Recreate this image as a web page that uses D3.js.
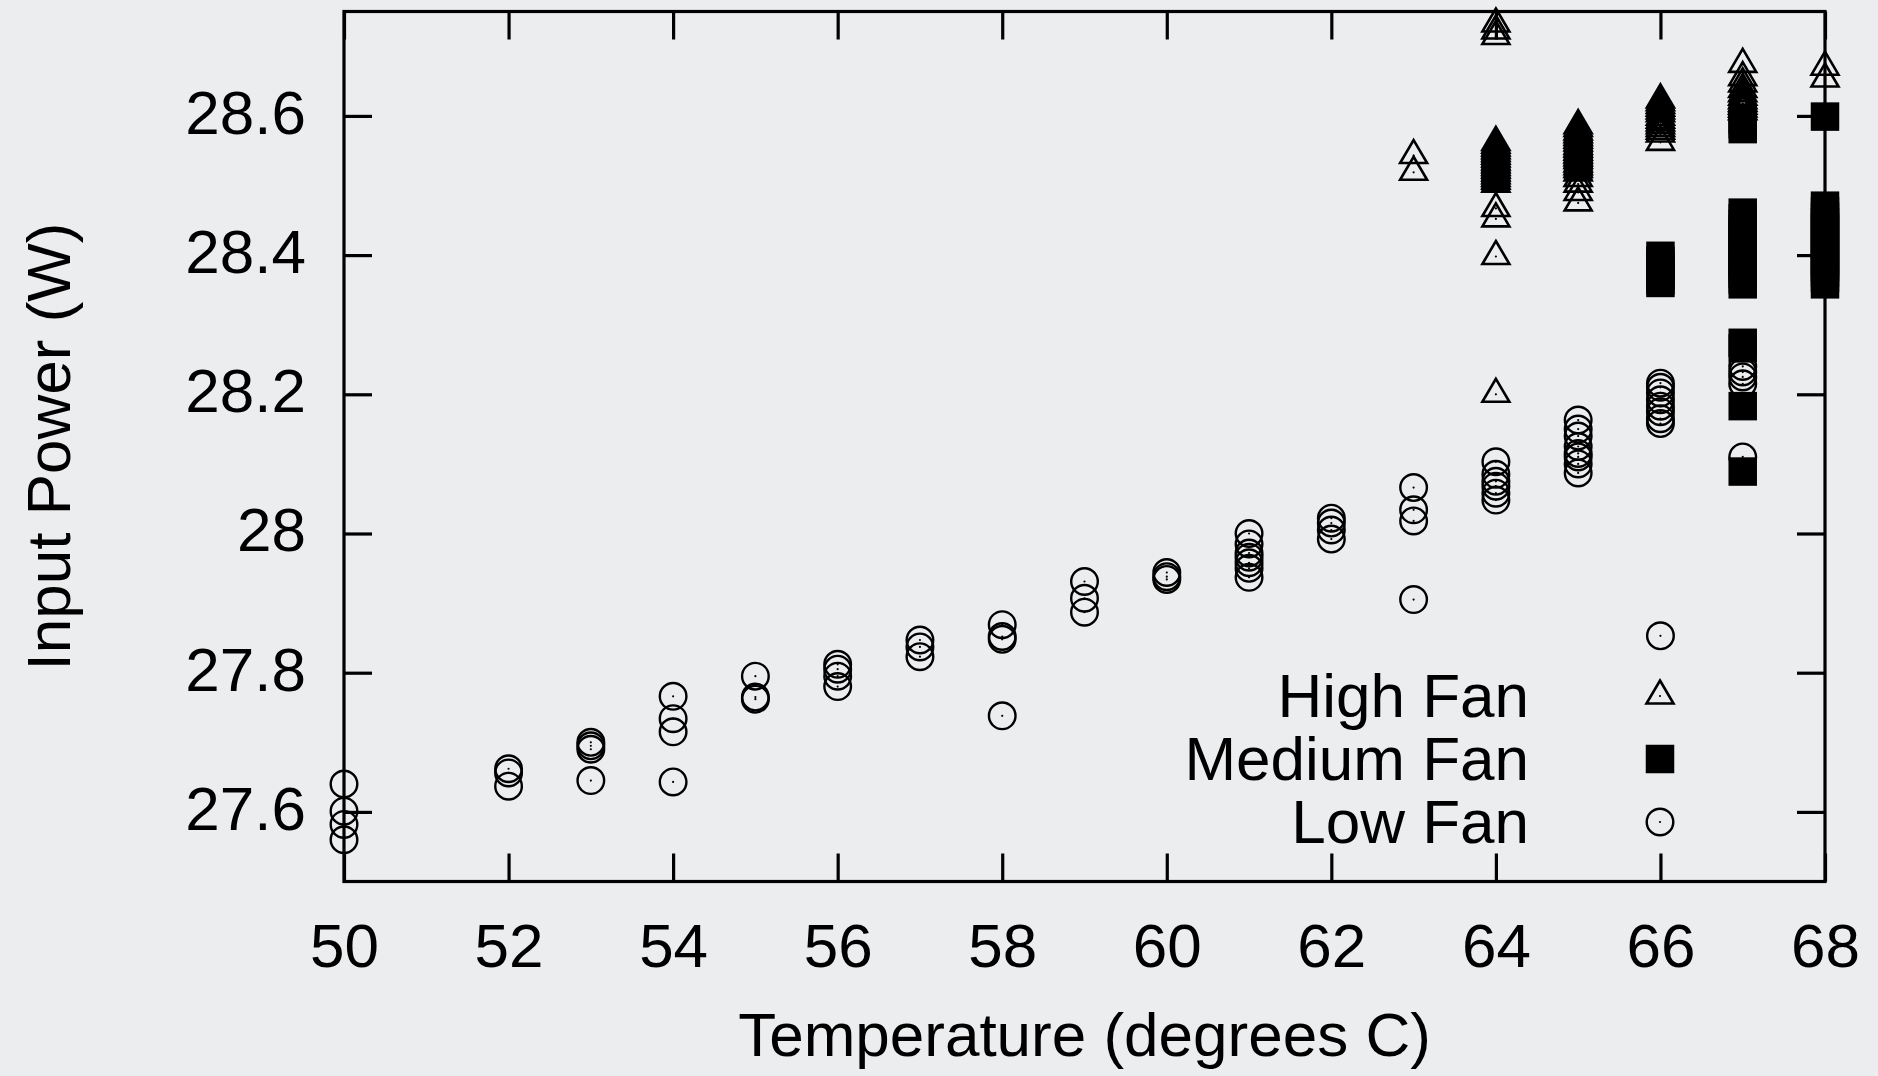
<!DOCTYPE html>
<html>
<head>
<meta charset="utf-8">
<script src="https://cdn.jsdelivr.net/npm/d3@7"></script>
<style>
  html, body { margin: 0; padding: 0; background: #ecedef; }
  svg { display: block; font-family: "Liberation Sans", Arial, Helvetica, sans-serif; }
</style>
</head>
<body>
<div id="chart"></div>
<script>
/* Input power vs temperature, three fan speeds */

// [temperature, watts]
const highFan = [
  [63, 28.543], [63, 28.519],
  [64, 28.732], [64, 28.722], [64, 28.714],
  [64, 28.562], [64, 28.558], [64, 28.554], [64, 28.550], [64, 28.546], [64, 28.542],
  [64, 28.538], [64, 28.534], [64, 28.530], [64, 28.526], [64, 28.522], [64, 28.518],
  [64, 28.514], [64, 28.510], [64, 28.506], [64, 28.502],
  [64, 28.467], [64, 28.452], [64, 28.398], [64, 28.200],
  [65, 28.586], [65, 28.582], [65, 28.577], [65, 28.573], [65, 28.569], [65, 28.565],
  [65, 28.561], [65, 28.556], [65, 28.552], [65, 28.548], [65, 28.544], [65, 28.540],
  [65, 28.536], [65, 28.531], [65, 28.527], [65, 28.523], [65, 28.518],
  [65, 28.510], [65, 28.502], [65, 28.490], [65, 28.475],
  [66, 28.623], [66, 28.619], [66, 28.615], [66, 28.611], [66, 28.607], [66, 28.603],
  [66, 28.598], [66, 28.594], [66, 28.590], [66, 28.586], [66, 28.582], [66, 28.578],
  [66, 28.574], [66, 28.562],
  [67, 28.674], [67, 28.655], [67, 28.646], [67, 28.638], [67, 28.632], [67, 28.627],
  [67, 28.622], [67, 28.618], [67, 28.614], [67, 28.610], [67, 28.606],
  [68, 28.670], [68, 28.653]
];

const mediumFan = [
  [64, 28.530], [64, 28.524], [64, 28.517], [64, 28.510],
  [65, 28.552], [65, 28.545], [65, 28.538], [65, 28.531], [65, 28.527],
  [66, 28.399], [66, 28.392], [66, 28.385], [66, 28.378], [66, 28.371], [66, 28.364], [66, 28.360],
  [67, 28.595], [67, 28.588], [67, 28.581],
  [67, 28.461], [67, 28.453], [67, 28.445], [67, 28.437], [67, 28.429], [67, 28.421],
  [67, 28.413], [67, 28.405], [67, 28.397], [67, 28.389], [67, 28.381], [67, 28.373],
  [67, 28.365], [67, 28.358],
  [67, 28.274], [67, 28.266], [67, 28.183], [67, 28.089],
  [68, 28.599],
  [68, 28.471], [68, 28.463], [68, 28.455], [68, 28.447], [68, 28.439], [68, 28.431],
  [68, 28.423], [68, 28.415], [68, 28.407], [68, 28.399], [68, 28.391], [68, 28.383],
  [68, 28.375], [68, 28.367], [68, 28.358]
];

const lowFan = [
  [50, 27.640], [50, 27.601], [50, 27.582], [50, 27.560],
  [52, 27.662], [52, 27.656], [52, 27.637],
  [53, 27.700], [53, 27.695], [53, 27.690], [53, 27.645],
  [54, 27.766], [54, 27.734], [54, 27.715], [54, 27.643],
  [55, 27.795], [55, 27.765], [55, 27.762],
  [56, 27.812], [56, 27.805], [56, 27.795], [56, 27.780],
  [57, 27.847], [57, 27.837], [57, 27.823],
  [58, 27.869], [58, 27.852], [58, 27.848], [58, 27.738],
  [59, 27.931], [59, 27.907], [59, 27.887],
  [60, 27.944], [60, 27.938], [60, 27.934],
  [61, 28.000], [61, 27.985], [61, 27.972], [61, 27.966], [61, 27.958], [61, 27.950], [61, 27.937],
  [62, 28.022], [62, 28.015], [62, 28.005], [62, 27.992],
  [63, 28.066], [63, 28.034], [63, 28.018], [63, 27.905],
  [64, 28.103], [64, 28.085], [64, 28.075], [64, 28.068], [64, 28.058], [64, 28.048],
  [65, 28.163], [65, 28.150], [65, 28.140], [65, 28.125], [65, 28.115], [65, 28.110],
  [65, 28.100], [65, 28.087],
  [66, 28.216], [66, 28.210], [66, 28.202], [66, 28.192], [66, 28.183], [66, 28.175],
  [66, 28.165], [66, 28.158], [66, 27.853],
  [67, 28.240], [67, 28.232], [67, 28.225], [67, 28.215], [67, 28.110]
];

const xDomain = [50, 68];
const yDomain = [27.5, 28.75];
const xTicks = [50, 52, 54, 56, 58, 60, 62, 64, 66, 68];
const yTicks = [27.6, 27.8, 28.0, 28.2, 28.4, 28.6];
const legendLabels = ['High Fan', 'Medium Fan', 'Low Fan'];

const width = 1878;
const height = 1076;
const margin = { top: 11.5, right: 53, bottom: 194.5, left: 344 };
const innerWidth = width - margin.left - margin.right;
const innerHeight = height - margin.top - margin.bottom;
const fontSize = 62;

const svg = d3.select('#chart')
  .append('svg')
  .attr('width', width)
  .attr('height', height);

svg.append('rect')
  .attr('width', width)
  .attr('height', height)
  .attr('fill', '#ecedef');

const g = svg.append('g')
  .attr('transform', `translate(${margin.left},${margin.top})`);

// Scales
const x = d3.scaleLinear().domain(xDomain).range([0, innerWidth]);
const y = d3.scaleLinear().domain(yDomain).range([innerHeight, 0]);

// Marker shapes (gnuplot style)
const triPath = 'M0,-15.5 L13.5,7.5 L-13.5,7.5 Z';
const sq = 28.5;

function drawTriangle(sel) {
  sel.append('path')
    .attr('d', triPath)
    .attr('fill', 'none')
    .attr('stroke', '#000')
    .attr('stroke-width', 2.6)
    .attr('stroke-linejoin', 'miter');
  sel.append('circle').attr('r', 1.1).attr('fill', '#000');
}

function drawCircle(sel) {
  sel.append('circle')
    .attr('r', 13.3)
    .attr('fill', 'none')
    .attr('stroke', '#000')
    .attr('stroke-width', 2.4);
  sel.append('circle').attr('r', 1.1).attr('fill', '#000');
}

function drawSquare(sel) {
  sel.append('rect')
    .attr('x', -sq / 2)
    .attr('y', -sq / 2)
    .attr('width', sq)
    .attr('height', sq)
    .attr('fill', '#000');
}

// Frame
g.append('rect')
  .attr('width', innerWidth)
  .attr('height', innerHeight)
  .attr('fill', 'none')
  .attr('stroke', '#000')
  .attr('stroke-width', 3.2);

// Axes with inward ticks, mirrored on top/right
const tickLen = 28;

const xAxis = g.append('g')
  .attr('transform', `translate(0,${innerHeight})`)
  .call(d3.axisBottom(x).tickValues(xTicks).tickSize(-tickLen).tickPadding(41));

const xAxisTop = g.append('g')
  .call(d3.axisTop(x).tickValues(xTicks).tickSize(-tickLen));
xAxisTop.selectAll('text').remove();

const yAxis = g.append('g')
  .call(d3.axisLeft(y).tickValues(yTicks).tickSize(-tickLen).tickPadding(tickLen + 10)
    .tickFormat(d => String(+d.toFixed(1))));

const yAxisRight = g.append('g')
  .attr('transform', `translate(${innerWidth},0)`)
  .call(d3.axisRight(y).tickValues(yTicks).tickSize(-tickLen));
yAxisRight.selectAll('text').remove();

g.selectAll('.domain').remove();
g.selectAll('.tick line')
  .attr('stroke', '#000')
  .attr('stroke-width', 3.2);

xAxis.selectAll('text')
  .attr('fill', '#000')
  .attr('font-size', fontSize)
  .attr('font-family', null)
  .attr('dy', '0.71em');

yAxis.selectAll('text')
  .attr('fill', '#000')
  .attr('font-size', fontSize)
  .attr('font-family', null)
  .attr('dy', '0.28em');

// Axis titles
svg.append('text')
  .attr('x', margin.left + innerWidth / 2)
  .attr('y', 1056)
  .attr('text-anchor', 'middle')
  .attr('font-size', fontSize)
  .text('Temperature (degrees C)');

svg.append('text')
  .attr('transform', `translate(70,${margin.top + innerHeight / 2}) rotate(-90)`)
  .attr('text-anchor', 'middle')
  .attr('font-size', fontSize)
  .text('Input Power (W)');

// Points: high, then medium, then low (plot order)
g.selectAll('.pt-high')
  .data(highFan)
  .enter()
  .append('g')
  .attr('class', 'pt-high')
  .attr('transform', d => `translate(${x(d[0])},${y(d[1])})`)
  .call(drawTriangle);

g.selectAll('.pt-medium')
  .data(mediumFan)
  .enter()
  .append('g')
  .attr('class', 'pt-medium')
  .attr('transform', d => `translate(${x(d[0])},${y(d[1])})`)
  .call(drawSquare);

g.selectAll('.pt-low')
  .data(lowFan)
  .enter()
  .append('g')
  .attr('class', 'pt-low')
  .attr('transform', d => `translate(${x(d[0])},${y(d[1])})`)
  .call(drawCircle);

// Legend - text right aligned, marker to the right
const legend = svg.append('g');
const markers = [drawTriangle, drawSquare, drawCircle];

legendLabels.forEach((label, i) => {
  const baseY = 717 + i * 63;
  legend.append('text')
    .attr('x', 1529)
    .attr('y', baseY)
    .attr('text-anchor', 'end')
    .attr('font-size', fontSize)
    .text(label);

  legend.append('g')
    .attr('transform', `translate(1660,${baseY - 21})`)
    .call(markers[i]);
});
</script>
</body>
</html>
